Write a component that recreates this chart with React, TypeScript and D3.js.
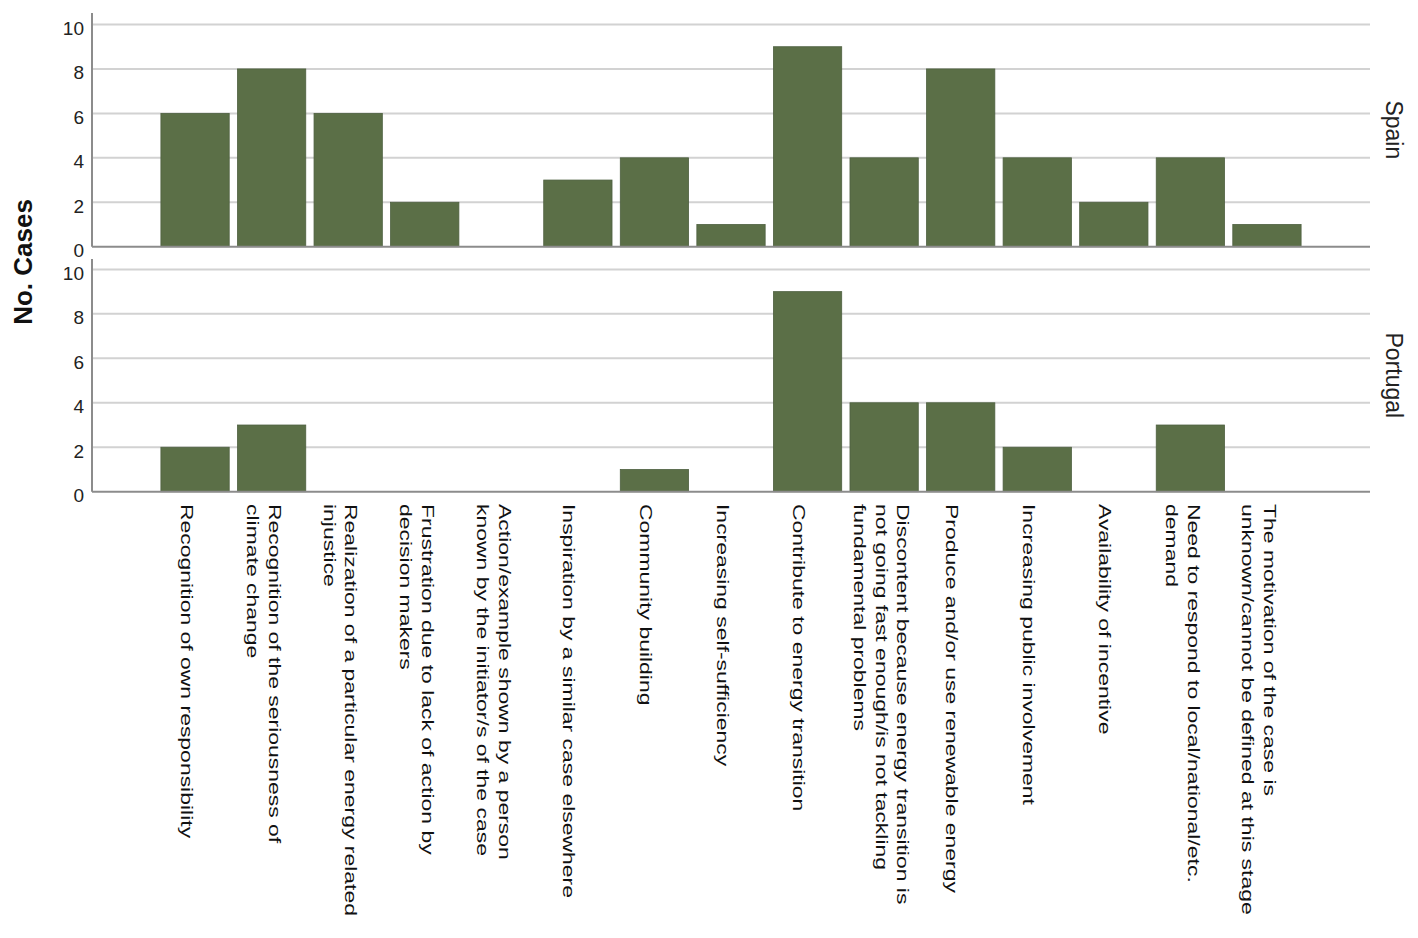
import React from "react";
import * as d3 from "d3";

const categories = [
  "Recognition of own responsibility",
  "Recognition of the seriousness of\nclimate change",
  "Realization of a particular energy related\ninjustice",
  "Frustration due to lack of action by\ndecision makers",
  "Action/example shown by a person\nknown by the initiator/s of the case",
  "Inspiration by a similar case elsewhere",
  "Community building",
  "Increasing self-sufficiency",
  "Contribute to energy transition",
  "Discontent because energy transition is\nnot going fast enough/is not tackling\nfundamental problems",
  "Produce and/or use renewable energy",
  "Increasing public involvement",
  "Availability of incentive",
  "Need to respond to local/national/etc.\ndemand",
  "The motivation of the case is\nunknown/cannot be defined at this stage",
];

const spainValues = [6, 8, 6, 2, 0, 3, 4, 1, 9, 4, 8, 4, 2, 4, 1];
const portugalValues = [2, 3, 0, 0, 0, 0, 1, 0, 9, 4, 4, 2, 0, 3, 0];

const panelNames = ["Spain", "Portugal"];
const yTicks = [0, 2, 4, 6, 8, 10];
const yAxisTitle = "No. Cases";

const W = 1418;
const H = 938;
const FONT = "'Liberation Sans', Arial, Helvetica, sans-serif";
const BAR_FILL = "#5b6f47";
const BAR_STROKE = "#4e6040";
const GRID = "#d2d2d2";
const AXIS = "#8c8c8c";

const X0 = 92;
const X1 = 1370;

const panelLayout = [
  { top: 13, y10: 24.5, y0: 246.7 },
  { top: 259, y10: 269.4, y0: 491.7 },
];

const lineCentroid: Record<number, number> = { 1: 14.5, 2: 13.6, 3: 8.5 };
const LINE_H = 21.7;

export default function App() {
  const x = d3
    .scaleBand<string>()
    .domain(categories)
    .range([X0, X1])
    .paddingInner(0.108)
    .paddingOuter(0.9);

  const seriesList = [spainValues, portugalValues];

  return (
    <svg
      width={W}
      height={H}
      style={{ position: "absolute", left: 0, top: 0, background: "#fff" }}
      fontFamily={FONT}
    >
      {panelNames.map((name, pi) => {
        const L = panelLayout[pi];
        const y = d3.scaleLinear().domain([0, 10]).range([L.y0, L.y10]);
        const vals = seriesList[pi];
        return (
          <g key={name}>
            {yTicks.map((t) =>
              t === 0 ? null : (
                <line
                  key={t}
                  x1={X0}
                  x2={X1}
                  y1={y(t)}
                  y2={y(t)}
                  stroke={GRID}
                  strokeWidth={2}
                />
              )
            )}
            {categories.map((c, i) =>
              vals[i] > 0 ? (
                <rect
                  key={c}
                  x={x(c)!}
                  width={x.bandwidth()}
                  y={y(vals[i])}
                  height={y(0) - y(vals[i])}
                  fill={BAR_FILL}
                  stroke={BAR_STROKE}
                  strokeWidth={0.8}
                />
              ) : null
            )}
            <line x1={X0} x2={X0} y1={L.top} y2={L.y0} stroke={AXIS} strokeWidth={2} />
            <line x1={X0} x2={X1} y1={L.y0} y2={L.y0} stroke={AXIS} strokeWidth={2} />
            {yTicks.map((t) => (
              <text
                key={"t" + t}
                x={84}
                y={y(t) + 10.5}
                textAnchor="end"
                fontSize={19}
                fill="#222"
              >
                {t}
              </text>
            ))}
            <text
              transform={`translate(1386,${(L.top + L.y0) / 2}) rotate(90)`}
              textAnchor="middle"
              fontSize={23}
              fill="#222"
            >
              {name}
            </text>
          </g>
        );
      })}

      <text
        transform={`translate(32,262) rotate(-90)`}
        textAnchor="middle"
        fontSize={26}
        fontWeight="bold"
        fill="#111"
      >
        {yAxisTitle}
      </text>

      {categories.map((c) => {
        const lines = c.split("\n");
        const n = lines.length;
        const cx = x(c)! + x.bandwidth() / 2;
        const cen = lineCentroid[n] ?? 13;
        return (
          <g key={"lab" + c} transform={`translate(${cx},504) rotate(90)`}>
            {lines.map((ln, li) => {
              const dy = cen + (li - (n - 1) / 2) * LINE_H;
              return (
                <text
                  key={li}
                  transform={`translate(0,${dy}) scale(1.35,1)`}
                  fontSize={17}
                  fill="#111"
                >
                  {ln}
                </text>
              );
            })}
          </g>
        );
      })}
    </svg>
  );
}
